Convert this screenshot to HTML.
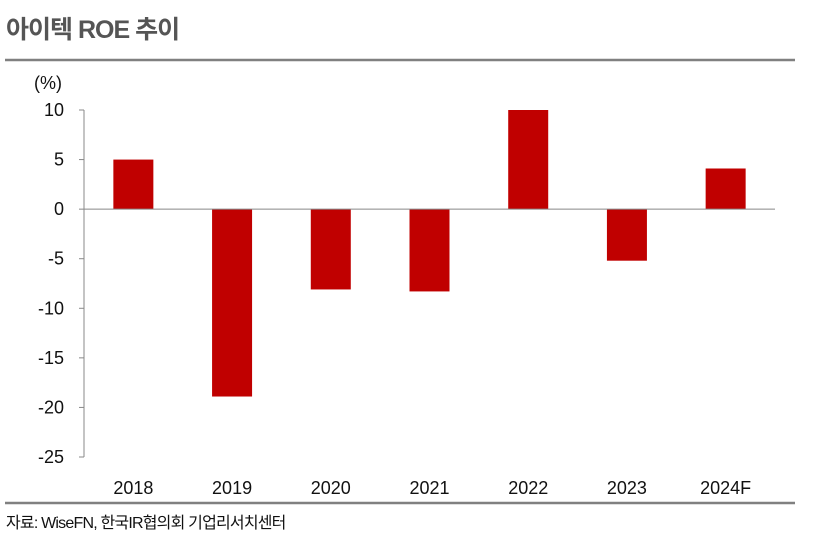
<!DOCTYPE html>
<html><head><meta charset="utf-8"><style>
body{margin:0;background:#fff;width:835px;height:551px;overflow:hidden;font-family:"Liberation Sans","Noto Sans CJK KR",sans-serif;}
</style></head><body>
<svg width="835" height="551" xmlns="http://www.w3.org/2000/svg">
<text x="6" y="38" font-size="25" font-weight="bold" fill="#555" font-family="Liberation Sans,Noto Sans CJK KR,sans-serif" letter-spacing="-1">아이텍 ROE 추이</text>
<line x1="5" y1="60" x2="795" y2="60" stroke="#808080" stroke-width="2.5"/>
<text x="34" y="89" font-size="18" fill="#111">(%)</text>
<g id="plot"></g>
<line x1="5" y1="503" x2="795" y2="503" stroke="#808080" stroke-width="2.5"/>
<text x="6" y="528" font-size="16" fill="#111" font-family="Liberation Sans,Noto Sans CJK KR,sans-serif" letter-spacing="-0.8">자료: WiseFN, 한국IR협의회 기업리서치센터</text>
</svg>
<script>
const categories=["2018","2019","2020","2021","2022","2023","2024F"];
const roeValues=[5.0,-18.9,-8.1,-8.3,10.0,-5.2,4.1];
const yTicks=[10,5,0,-5,-10,-15,-20,-25];
const NS="http://www.w3.org/2000/svg";
const g=document.getElementById('plot');
const x0=84,x1=775,yTop=110,yBot=457,vMax=10,vMin=-25;
const y=v=>yTop+(vMax-v)/(vMax-vMin)*(yBot-yTop);
const bw=(x1-x0)/categories.length;
const xc=i=>x0+bw*(i+0.5);
function mk(t,a){const e=document.createElementNS(NS,t);for(const k in a)e.setAttribute(k,a[k]);g.appendChild(e);return e;}
let ax=mk('line',{x1:x0,y1:y(vMax),x2:x0,y2:y(vMin),stroke:'#888','stroke-width':1});


yTicks.forEach(v=>{
 let t=mk('line',{x1:x0-5,y1:y(v),x2:x0,y2:y(v),stroke:'#888','stroke-width':1});
 
 
 let l=mk('text',{x:x0-20,y:y(v)+6,'font-size':18,fill:'#111','text-anchor':'end'});
 l.textContent=v;
 
 
});
categories.forEach((c,i)=>{
 const v=roeValues[i];
 let r=mk('rect',{x:xc(i)-20,y:Math.min(y(v),y(0)),width:40,height:Math.abs(y(v)-y(0)),fill:'#c00000'});
 
 
 let l=mk('text',{x:xc(i),y:494,'font-size':18,fill:'#111','text-anchor':'middle'});
 l.textContent=c;
 
 
});
let zl=mk('line',{x1:x0,y1:y(0),x2:x1,y2:y(0),stroke:'#888','stroke-width':1});


</script>
</body></html>
